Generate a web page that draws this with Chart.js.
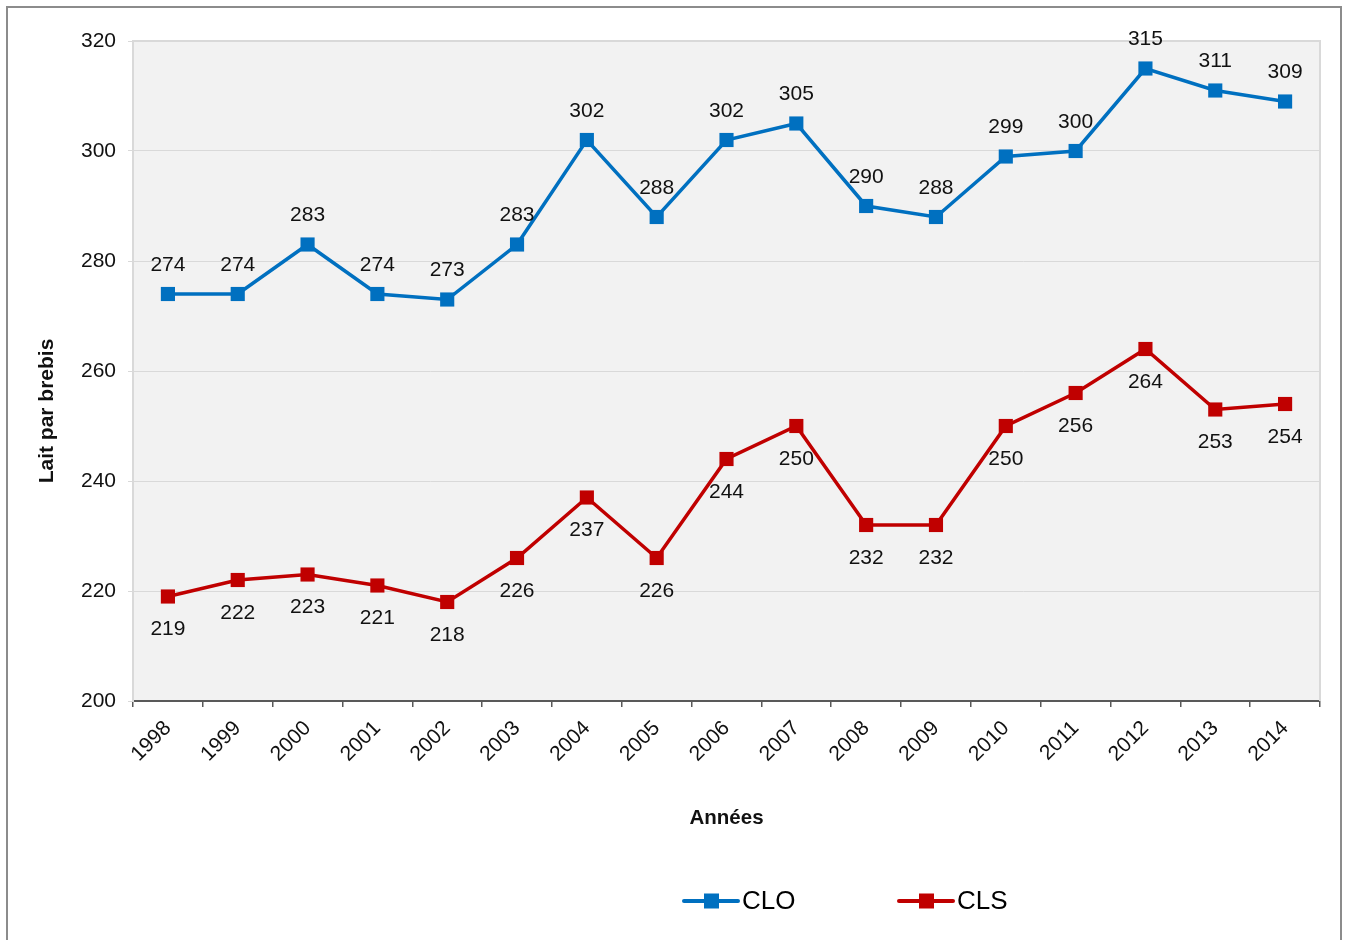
<!DOCTYPE html>
<html>
<head>
<meta charset="utf-8">
<script src="https://cdn.jsdelivr.net/npm/chart.js@4/dist/chart.umd.min.js"></script>
<style>
  html, body { margin: 0; padding: 0; background: #fff; overflow: hidden; width: 1346px; height: 940px; }
  #wrap { position: relative; width: 1346px; height: 940px; }
  #frame { position: absolute; left: 6px; top: 6px; width: 1336px; height: 1000px; border: 2px solid #8c8c8c; box-sizing: border-box; pointer-events: none; }
  canvas { position: absolute; left: 0; top: 0; }
</style>
</head>
<body>
<div id="wrap">
  <canvas id="c" width="1346" height="940"></canvas>
  <div id="frame"></div>
</div>
<script>
const years = ['1998','1999','2000','2001','2002','2003','2004','2005','2006','2007','2008','2009','2010','2011','2012','2013','2014'];
const cloValues = [274, 274, 283, 274, 273, 283, 302, 288, 302, 305, 290, 288, 299, 300, 315, 311, 309];
const clsValues = [219, 222, 223, 221, 218, 226, 237, 226, 244, 250, 232, 232, 250, 256, 264, 253, 254];
const seriesNames = ['CLO', 'CLS'];
const seriesColors = ['#0070C0', '#C00000'];
const yMin = 200, yMax = 320, yStep = 20;
const xTitle = 'Années';
const yTitle = 'Lait par brebis';

const FONT = '"Liberation Sans", Arial, sans-serif';

const plotBg = {
  id: 'plotBg',
  beforeDraw(chart) {
    const {ctx, chartArea: a} = chart;
    ctx.save();
    ctx.fillStyle = '#f2f2f2';
    ctx.fillRect(a.left, a.top, a.right - a.left, a.bottom - a.top);
    ctx.restore();
  },
  beforeDatasetsDraw(chart) {
    const {ctx, chartArea: a} = chart;
    ctx.save();
    ctx.strokeStyle = '#d9d9d9';
    ctx.lineWidth = 2;
    ctx.beginPath();
    ctx.moveTo(a.left, a.bottom);
    ctx.lineTo(a.left, a.top);
    ctx.lineTo(a.right, a.top);
    ctx.lineTo(a.right, a.bottom);
    ctx.stroke();
    ctx.restore();
  }
};

const dataLabels = {
  id: 'dataLabels',
  afterDatasetsDraw(chart) {
    const ctx = chart.ctx;
    ctx.save();
    ctx.font = '21px ' + FONT;
    ctx.fillStyle = '#111';
    ctx.textAlign = 'center';
    ctx.textBaseline = 'middle';
    chart.data.datasets.forEach((ds, i) => {
      const meta = chart.getDatasetMeta(i);
      meta.data.forEach((pt, j) => {
        ctx.fillText(String(ds.data[j]), pt.x, pt.y + ds.labelShift);
      });
    });
    ctx.restore();
  }
};

const yAxisTitle = {
  id: 'yAxisTitle',
  afterDraw(chart) {
    const ctx = chart.ctx;
    ctx.save();
    ctx.font = 'bold 21px ' + FONT;
    ctx.fillStyle = '#111';
    ctx.textAlign = 'center';
    ctx.textBaseline = 'middle';
    ctx.translate(47, 411);
    ctx.rotate(-Math.PI / 2);
    ctx.fillText(yTitle, 0, 0);
    ctx.restore();
  }
};

const customLegend = {
  id: 'customLegend',
  afterDraw(chart) {
    const ctx = chart.ctx;
    const items = [{x: 684}, {x: 899}];
    ctx.save();
    ctx.font = '26px ' + FONT;
    ctx.textBaseline = 'middle';
    ctx.textAlign = 'left';
    items.forEach((it, i) => {
      const y = 901;
      ctx.strokeStyle = seriesColors[i];
      ctx.lineWidth = 4;
      ctx.lineCap = 'round';
      ctx.beginPath();
      ctx.moveTo(it.x, y);
      ctx.lineTo(it.x + 54, y);
      ctx.stroke();
      ctx.fillStyle = seriesColors[i];
      ctx.fillRect(it.x + 20, y - 7.5, 15, 15);
      ctx.fillStyle = '#000';
      ctx.fillText(seriesNames[i], it.x + 58, y + 1);
    });
    ctx.restore();
  }
};

new Chart(document.getElementById('c'), {
  type: 'line',
  data: {
    labels: years,
    datasets: [
      {
        label: seriesNames[0], data: cloValues,
        borderColor: seriesColors[0], backgroundColor: seriesColors[0],
        borderWidth: 3.5, pointStyle: 'rect', pointRadius: 10, pointBorderWidth: 0,
        tension: 0, labelShift: -29
      },
      {
        label: seriesNames[1], data: clsValues,
        borderColor: seriesColors[1], backgroundColor: seriesColors[1],
        borderWidth: 3.5, pointStyle: 'rect', pointRadius: 10, pointBorderWidth: 0,
        tension: 0, labelShift: 33
      }
    ]
  },
  options: {
    responsive: false,
    animation: false,
    devicePixelRatio: 1,
    layout: { padding: { left: 0, top: 41, right: 26, bottom: 109 } },
    plugins: { legend: { display: false }, tooltip: { enabled: false } },
    scales: {
      x: {
        offset: true,
        grid: { offset: true, drawOnChartArea: false, drawTicks: true, tickLength: 6, color: '#595959', lineWidth: 1.5 },
        border: { color: '#595959', width: 2 },
        ticks: { font: { size: 21, family: FONT }, color: '#111', minRotation: 45, maxRotation: 45, padding: 9, autoSkip: false },
        title: { display: true, text: xTitle, font: { size: 20.5, weight: 'bold', family: FONT }, color: '#111', padding: { top: 0, bottom: 0 } },
        afterFit(scale) { scale.height = 130; }
      },
      y: {
        min: yMin, max: yMax,
        ticks: { stepSize: yStep, font: { size: 21, family: FONT }, color: '#111', padding: 12 },
        grid: { color: '#d9d9d9', lineWidth: 1, tickLength: 5, tickColor: '#d9d9d9' },
        border: { color: '#d9d9d9', width: 2 },
        title: { display: false },
        afterFit(scale) { scale.width = 133; }
      }
    }
  },
  plugins: [plotBg, dataLabels, yAxisTitle, customLegend]
});
</script>
</body>
</html>
